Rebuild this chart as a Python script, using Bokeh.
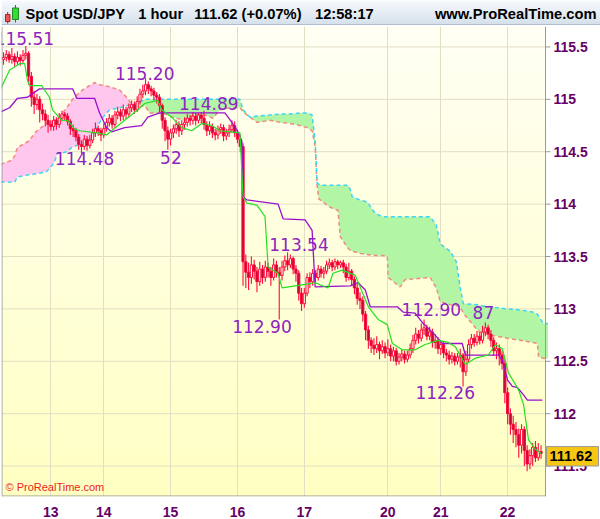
import numpy as np
from bokeh.plotting import figure
from bokeh.models import Range1d, FixedTicker
from bokeh.layouts import column
from bokeh.embed import file_html
from bokeh.resources import INLINE
from bokeh.core.properties import value

# ---------------- hourly USD/JPY candles ----------------
opens = [
    115.38, 115.40, 115.43, 115.38, 115.41, 115.36, 115.40, 115.37, 115.42, 115.44,
    115.22, 115.02, 114.95, 115.00, 114.90, 114.86, 114.80, 114.76, 114.74, 114.80,
    114.76, 114.82, 114.86, 114.84, 114.79, 114.72, 114.70, 114.64, 114.57, 114.55,
    114.62, 114.56, 114.61, 114.68, 114.72, 114.70, 114.66, 114.72, 114.78, 114.82,
    114.76, 114.85, 114.88, 114.84, 114.90, 114.86, 114.92, 114.95, 114.90, 114.98,
    115.05, 115.08, 115.14, 115.10, 115.08, 115.04, 115.02, 114.94, 114.80, 114.70,
    114.62, 114.68, 114.72, 114.76, 114.70, 114.76, 114.78, 114.82, 114.80, 114.84,
    114.80, 114.85, 114.82, 114.76, 114.70, 114.74, 114.68, 114.66, 114.71, 114.73,
    114.65, 114.68, 114.71, 114.75, 114.68, 114.62, 114.55, 113.45, 113.35, 113.30,
    113.42, 113.36, 113.26, 113.38, 113.30, 113.40, 113.36, 113.30, 113.42, 113.35,
    113.32, 113.40, 113.46, 113.42, 113.48, 113.38, 113.34, 113.15, 113.05, 113.15,
    113.30, 113.26, 113.34, 113.30, 113.38, 113.34, 113.36, 113.42, 113.44, 113.40,
    113.45, 113.42, 113.44, 113.40, 113.30, 113.36, 113.28, 113.20, 113.10, 113.08,
    112.95, 112.80, 112.70, 112.65, 112.62, 112.66, 112.60, 112.64, 112.58, 112.62,
    112.55, 112.60, 112.50, 112.54, 112.57, 112.52, 112.56, 112.62, 112.70, 112.76,
    112.72, 112.80, 112.82, 112.74, 112.78, 112.68, 112.70, 112.62, 112.66, 112.58,
    112.56, 112.52, 112.55, 112.50, 112.54, 112.56, 112.40, 112.52, 112.66, 112.72,
    112.68, 112.74, 112.70, 112.78, 112.82, 112.76, 112.70, 112.60, 112.62, 112.56,
    112.48, 112.20, 112.00, 111.90, 111.85, 111.80, 111.70, 111.85, 111.65, 111.52,
    111.60, 111.68, 111.58, 111.64,
]
highs = [
    115.45, 115.47, 115.46, 115.49, 115.44, 115.46, 115.43, 115.47, 115.51, 115.46,
    115.26, 115.08, 115.05, 115.03, 114.96, 114.90, 114.85, 114.80, 114.84, 114.83,
    114.87, 114.89, 114.88, 114.87, 114.81, 114.76, 114.73, 114.67, 114.61, 114.66,
    114.65, 114.66, 114.72, 114.78, 114.75, 114.73, 114.77, 114.82, 114.86, 114.85,
    114.89, 114.93, 114.91, 114.95, 114.93, 114.96, 114.99, 114.98, 115.03, 115.10,
    115.14, 115.20, 115.17, 115.13, 115.11, 115.07, 115.05, 114.96, 114.83, 114.74,
    114.72, 114.76, 114.80, 114.79, 114.80, 114.83, 114.86, 114.85, 114.88, 114.87,
    114.87, 114.88, 114.89, 114.79, 114.79, 114.77, 114.72, 114.75, 114.77, 114.76,
    114.72, 114.76, 114.80, 114.79, 114.71, 114.66, 114.58, 113.52, 113.44, 113.50,
    113.47, 113.40, 113.45, 113.42, 113.46, 113.44, 113.40, 113.48, 113.46, 113.40,
    113.46, 113.51, 113.54, 113.52, 113.50, 113.42, 113.37, 113.20, 113.20, 113.34,
    113.35, 113.38, 113.37, 113.42, 113.41, 113.40, 113.46, 113.48, 113.47, 113.48,
    113.47, 113.46, 113.47, 113.43, 113.44, 113.38, 113.31, 113.24, 113.16, 113.12,
    112.98, 112.84, 112.73, 112.72, 112.74, 112.69, 112.70, 112.68, 112.71, 112.66,
    112.64, 112.63, 112.58, 112.61, 112.60, 112.60, 112.67, 112.75, 112.82, 112.80,
    112.86, 112.90, 112.85, 112.83, 112.81, 112.76, 112.73, 112.70, 112.69, 112.62,
    112.60, 112.59, 112.58, 112.58, 112.62, 112.58, 112.60, 112.71, 112.76, 112.76,
    112.79, 112.78, 112.84, 112.87, 112.85, 112.80, 112.73, 112.68, 112.66, 112.60,
    112.52, 112.25, 112.05, 111.98, 111.92, 111.86, 111.90, 111.88, 111.70, 111.66,
    111.72, 111.74, 111.72, 111.70,
]
lows = [
    115.33, 115.36, 115.35, 115.34, 115.31, 115.33, 115.32, 115.35, 115.38, 115.14,
    114.93, 114.86, 114.90, 114.78, 114.80, 114.74, 114.68, 114.70, 114.70, 114.71,
    114.73, 114.79, 114.80, 114.75, 114.66, 114.64, 114.60, 114.52, 114.48, 114.52,
    114.51, 114.53, 114.58, 114.64, 114.65, 114.60, 114.63, 114.69, 114.74, 114.72,
    114.73, 114.81, 114.79, 114.80, 114.81, 114.83, 114.88, 114.86, 114.88, 114.95,
    115.01, 115.04, 115.05, 115.03, 114.99, 114.96, 114.88, 114.72, 114.60, 114.52,
    114.56, 114.63, 114.67, 114.64, 114.66, 114.71, 114.74, 114.75, 114.76, 114.75,
    114.77, 114.77, 114.71, 114.65, 114.66, 114.63, 114.61, 114.62, 114.67, 114.60,
    114.61, 114.64, 114.68, 114.64, 114.58, 114.50, 113.22, 113.20, 113.18, 113.24,
    113.28, 113.16, 113.22, 113.24, 113.26, 113.30, 113.22, 113.27, 113.30, 112.90,
    113.27, 113.36, 113.37, 113.39, 113.33, 113.26, 113.08, 112.98, 113.01, 113.12,
    113.20, 113.22, 113.25, 113.27, 113.30, 113.29, 113.33, 113.38, 113.36, 113.37,
    113.38, 113.39, 113.34, 113.26, 113.27, 113.22, 113.14, 113.04, 113.00, 112.88,
    112.70, 112.62, 112.58, 112.56, 112.58, 112.52, 112.57, 112.53, 112.55, 112.50,
    112.50, 112.46, 112.47, 112.50, 112.48, 112.49, 112.53, 112.58, 112.66, 112.67,
    112.69, 112.75, 112.70, 112.70, 112.63, 112.62, 112.57, 112.56, 112.53, 112.50,
    112.47, 112.48, 112.46, 112.47, 112.44, 112.26, 112.36, 112.49, 112.62, 112.64,
    112.65, 112.66, 112.67, 112.74, 112.71, 112.64, 112.55, 112.52, 112.46, 112.42,
    112.10, 111.90, 111.80, 111.72, 111.68, 111.58, 111.62, 111.50, 111.45, 111.47,
    111.50, 111.54, 111.55, 111.57,
]
closes = [
    115.40, 115.43, 115.38, 115.41, 115.36, 115.40, 115.37, 115.42, 115.44, 115.22,
    115.02, 114.95, 115.00, 114.90, 114.86, 114.80, 114.76, 114.74, 114.80, 114.76,
    114.82, 114.86, 114.84, 114.79, 114.72, 114.70, 114.64, 114.57, 114.55, 114.62,
    114.56, 114.61, 114.68, 114.72, 114.70, 114.66, 114.72, 114.78, 114.82, 114.76,
    114.85, 114.88, 114.84, 114.90, 114.86, 114.92, 114.95, 114.90, 114.98, 115.05,
    115.08, 115.14, 115.10, 115.08, 115.04, 115.02, 114.94, 114.80, 114.70, 114.62,
    114.68, 114.72, 114.76, 114.70, 114.76, 114.78, 114.82, 114.80, 114.84, 114.80,
    114.85, 114.82, 114.76, 114.70, 114.74, 114.68, 114.66, 114.71, 114.73, 114.65,
    114.68, 114.71, 114.75, 114.68, 114.62, 114.55, 113.45, 113.35, 113.30, 113.42,
    113.36, 113.26, 113.38, 113.30, 113.40, 113.36, 113.30, 113.42, 113.35, 113.32,
    113.40, 113.46, 113.42, 113.48, 113.38, 113.34, 113.15, 113.05, 113.15, 113.30,
    113.26, 113.34, 113.30, 113.38, 113.34, 113.36, 113.42, 113.44, 113.40, 113.45,
    113.42, 113.44, 113.40, 113.30, 113.36, 113.28, 113.20, 113.10, 113.08, 112.95,
    112.80, 112.70, 112.65, 112.62, 112.66, 112.60, 112.64, 112.58, 112.62, 112.55,
    112.60, 112.50, 112.54, 112.57, 112.52, 112.56, 112.62, 112.70, 112.76, 112.72,
    112.80, 112.82, 112.74, 112.78, 112.68, 112.70, 112.62, 112.66, 112.58, 112.56,
    112.52, 112.55, 112.50, 112.54, 112.56, 112.40, 112.52, 112.66, 112.72, 112.68,
    112.74, 112.70, 112.78, 112.82, 112.76, 112.70, 112.60, 112.62, 112.56, 112.48,
    112.20, 112.00, 111.90, 111.85, 111.80, 111.70, 111.85, 111.65, 111.52, 111.60,
    111.68, 111.58, 111.64, 111.62,
]

# ---------------- Ichimoku lines (bar position, price) ----------------
tenkan_x = [-1, 2.2, 5.8, 7.6, 8.6, 9.4, 13.7, 16.5, 17.6, 20.9, 23, 25.5, 27.3,
            33.5, 37, 38.8, 43.5, 48.2, 50.7, 55.4, 56.8, 60.4, 64, 67.6, 71.2,
            74.8, 77.7, 84.9, 86, 87.4, 91, 93.9, 95, 98.6, 100, 107.2, 111.9,
            116.5, 118.3, 121.6, 126.3, 131, 134.5, 137.8, 139.6, 143.2, 147.8,
            151.4, 156.1, 159.7, 162.2, 165.8, 169.4, 174.1, 176.6, 179.1, 181.3,
            184.9, 186.7, 188.5, 191, 193]
tenkan_y = [115.10, 115.28, 115.34, 115.34, 115.18, 115.13, 115.13, 115.02, 114.90,
            114.80, 114.80, 114.72, 114.70, 114.68, 114.66, 114.70, 114.80, 114.90,
            114.96, 114.99, 114.90, 114.83, 114.73, 114.70, 114.77, 114.75, 114.70,
            114.68, 114.07, 114.01, 113.99, 113.88, 113.40, 113.34, 113.20, 113.23,
            113.25, 113.20, 113.34, 113.37, 113.32, 113.02, 112.90, 112.85, 112.67,
            112.61, 112.61, 112.66, 112.70, 112.68, 112.64, 112.47, 112.53, 112.56,
            112.66, 112.62, 112.39, 112.23, 112.09, 111.75, 111.66, 111.62]

kijun_x = [-1, 2.2, 5, 8.6, 12.9, 24.8, 26.3, 32.7, 34.5, 37, 38.8, 43.5, 49.6,
           51.8, 56.1, 79.5, 82, 84.2, 85.6, 86, 87.4, 98.6, 100.4, 108.3, 110.8,
           111.9, 124.5, 127.3, 129.9, 131.7, 141.4, 143.5, 147.8, 150.4, 155,
           157.6, 164.7, 165.8, 177.7, 179.1, 181, 182.7, 184.5, 186.7, 188.1, 193.5]
kijun_y = [114.88, 114.92, 115.01, 115.02, 115.10, 115.10, 115.01, 115.01, 114.87,
           114.73, 114.69, 114.73, 114.75, 114.83, 114.87, 114.87, 114.78, 114.69,
           114.60, 114.07, 114.04, 114.00, 113.86, 113.85, 113.75, 113.21, 113.22,
           113.25, 113.18, 113.02, 113.02, 112.97, 112.96, 112.87, 112.75, 112.67,
           112.67, 112.56, 112.56, 112.51, 112.32, 112.26, 112.25, 112.18, 112.13,
           112.13]

# cloud: leading span A and leading span B on a shared bar grid
cloud_x = [-1, 3, 4, 5, 9, 12, 15.5, 18.3, 19.4, 21.2, 22.7, 24.5, 26.3, 28.4,
           30.2, 32.7, 34.5, 36.3, 38.1, 41.7, 44.2, 46.4, 48.9, 50.7, 52.5, 57.2,
           60.8, 65.1, 68, 72.3, 75.2, 77.7, 81.3, 84.9, 86, 88.5, 91, 95.7, 99.3,
           102.9, 106.5, 109, 110.8, 111.9, 112.6, 113.2, 114.7, 117.3, 120.1,
           120.9, 123.7, 124.5, 125.2, 128, 130.6, 133.5, 136.3, 137.8, 138.1,
           142.4, 144.2, 153.2, 155.4, 156.8, 160.4, 162.6, 164, 165.1, 170.1,
           171.2, 174.8, 180.9, 185.6, 190, 191.7, 192.1, 193.9, 195.5]
span_a = [114.21, 114.21, 114.21, 114.26, 114.28, 114.29, 114.31, 114.40, 114.49,
          114.49, 114.50, 114.54, 114.56, 114.57, 114.59, 114.68, 114.78, 114.85,
          114.90, 114.92, 114.94, 114.95, 114.97, 115.00, 115.00, 115.00, 115.00,
          115.00, 115.00, 115.00, 115.00, 115.00, 115.00, 115.00, 114.90, 114.83,
          114.84, 114.85, 114.86, 114.86, 114.87, 114.87, 114.85, 114.60, 114.20,
          114.19, 114.18, 114.18, 114.18, 114.18, 114.18, 114.14, 114.07, 114.04,
          114.02, 113.91, 113.88, 113.88, 113.88, 113.88, 113.88, 113.88, 113.80,
          113.62, 113.55, 113.45, 113.20, 113.05, 113.04, 113.03, 113.02, 113.00,
          112.99, 112.97, 112.95, 112.93, 112.86, 112.86]
span_b = [114.38, 114.42, 114.46, 114.54, 114.60, 114.70, 114.77, 114.80, 114.82,
          114.87, 114.92, 114.99, 115.04, 115.09, 115.12, 115.16, 115.14, 115.13,
          115.12, 115.09, 115.02, 114.94, 114.93, 114.94, 114.87, 114.87, 114.83,
          114.80, 114.85, 114.85, 114.82, 114.90, 114.92, 114.92, 114.88, 114.83,
          114.78, 114.80, 114.78, 114.77, 114.75, 114.73, 114.70, 114.55, 114.18,
          114.05, 114.02, 113.97, 113.94, 113.69, 113.58, 113.56, 113.55, 113.53,
          113.52, 113.51, 113.51, 113.50, 113.30, 113.21, 113.28, 113.30, 113.20,
          113.07, 113.04, 113.03, 113.02, 112.96, 112.80, 112.78, 112.75, 112.72,
          112.70, 112.68, 112.67, 112.54, 112.53, 112.53]

# ---------------- axis ticks ----------------
day_ticks = [17, 36, 60, 84, 108, 138, 157, 181]
day_labels = ["13", "14", "15", "16", "17", "20", "21", "22"]
price_ticks = [111.5, 112.0, 112.5, 113.0, 113.5, 114.0, 114.5, 115.0, 115.5]
price_labels = ["111.5", "112", "112.5", "113", "113.5", "114", "114.5", "115", "115.5"]

# swing high / low marks: bar, which extreme, leading characters hidden
mark_bars = [8, 51, 72, 28, 59, 102, 99, 151, 173, 165]
mark_kind = ["high", "high", "high", "low", "low", "high", "low", "high", "high", "low"]
mark_trim = [0, 0, 0, 0, 4, 0, 0, 0, 4, 0]

last_price = 111.62
header_items = ["Spot USD/JPY", "1 hour", "111.62 (+0.07%)", "12:58:17"]

# ---------------- layout / styling ----------------
X_START, X_END = -0.72, 194.6          # chart area: pixel 1 .. 545
Y_START, Y_END = 111.21, 115.695       # chart area: pixel 497 .. 26
DX = (X_END - X_START) / 544.0         # bar units per pixel
DY = (Y_END - Y_START) / 471.0         # price units per pixel
X_RIGHT = X_START + 599 * DX           # frame reaches the window's right edge

mark_pos_x = [7.5, 50.7, 73.7, 29.1, 60.1, 106.1, 92.8, 153.6, 172.3, 158.6]
mark_pos_y = [115.58, 115.248, 114.962, 114.438, 114.448, 113.61, 112.829, 112.99,
              112.962, 112.20]
header_pos_x = [24, 137, 193, 314]

AXIS_PURPLE = "#660066"
CANDLE_RED = "#ff0a3c"
BORDER_GREY = "#9a9a9a"

p = figure(width=600, height=494,
           x_range=Range1d(X_START, X_RIGHT), y_range=Range1d(Y_START, Y_END),
           output_backend="svg", toolbar_location=None,
           y_axis_location=None, x_axis_location="below",
           min_border_left=1, min_border_right=0, min_border_top=1,
           min_border_bottom=22)
p.border_fill_color = "white"
p.background_fill_color = "white"
p.outline_line_color = None

# vertical cream-to-yellow background of the chart area
rows = 128
t = np.linspace(0.0, 1.0, rows)
bg = np.empty((rows, 1), dtype=np.uint32)
bgv = bg.view(dtype=np.uint8).reshape((rows, 1, 4))
bgv[:, 0, 0] = 255
bgv[:, 0, 1] = 255
bgv[:, 0, 2] = np.round(194 + (244 - 194) * t).astype(np.uint8)
bgv[:, 0, 3] = 255
bg_r = p.image_rgba(image=[bg], x=X_START, y=Y_START,
                    dw=X_END - X_START, dh=Y_END - Y_START)
bg_r.level = "image"

# grid
GRID = "#e2dec4"
p.ygrid.visible = False
p.xgrid.grid_line_color = GRID
p.xgrid.ticker = FixedTicker(ticks=day_ticks)
n_p = len(price_ticks)
p.segment(x0=[X_START] * n_p, y0=price_ticks, x1=[X_END] * n_p, y1=price_ticks,
          line_color=GRID, line_width=1)

# day axis
p.xaxis.ticker = FixedTicker(ticks=day_ticks)
p.xaxis.major_label_overrides = dict(zip(day_ticks, day_labels))
p.xaxis.axis_line_color = None
p.xaxis.major_tick_line_color = None
p.xaxis.minor_tick_line_color = None
p.xaxis.major_label_text_color = AXIS_PURPLE
p.xaxis.major_label_text_font = "Liberation Sans"
p.xaxis.major_label_text_font_style = "bold"
p.xaxis.major_label_text_font_size = "14px"
p.xaxis.major_label_standoff = 4

# Ichimoku cloud
ca = np.array(span_a)
cb = np.array(span_b)
ctop = np.maximum(ca, cb)
p.varea(x=cloud_x, y1=cb, y2=ctop, fill_color="#b2f5a4")
p.varea(x=cloud_x, y1=ca, y2=ctop, fill_color="#ffc6ee")
p.line(cloud_x, span_b, line_color="#f28a80", line_width=1.5, line_dash="4 3")
p.line(cloud_x, span_a, line_color="#3fd4f4", line_width=1.5, line_dash="4 3")

# candles
o = np.array(opens)
h = np.array(highs)
l = np.array(lows)
c = np.array(closes)
idx = np.arange(len(c))
up = c >= o
p.segment(x0=idx, y0=l, x1=idx, y1=h, line_color=CANDLE_RED, line_width=1.1)
p.vbar(x=idx[up], width=0.8, bottom=o[up], top=c[up],
       fill_color="#fff6e0", line_color=CANDLE_RED, line_width=1)
p.vbar(x=idx[~up], width=0.8, bottom=c[~up], top=o[~up],
       fill_color="#c0083a", line_color=CANDLE_RED, line_width=1)

# conversion / base lines
p.line(kijun_x, kijun_y, line_color="#9a10d0", line_width=1.3)
p.line(tenkan_x, tenkan_y, line_color="#22e022", line_width=1.2)

# swing labels
mark_text = []
for b, k, tr in zip(mark_bars, mark_kind, mark_trim):
    v = highs[b] if k == "high" else lows[b]
    mark_text.append(f"{v:.2f}"[tr:])
p.text(x=mark_pos_x, y=mark_pos_y, text=mark_text,
       text_font=value("DejaVu Sans"), text_font_size="17px",
       text_color="#8e24c0", text_align="center", text_baseline="middle")

# copyright
p.text(x=[X_START + 4 * DX], y=[Y_START + 3.5 * DY], text=["\u00a9 ProRealTime.com"],
       text_font=value("Liberation Sans"), text_font_size="11px",
       text_color="#ee2222", text_baseline="bottom", text_align="left")

# chart-area border
p.segment(x0=[X_START + 0.5 * DX, X_END, X_START],
          y0=[Y_START, Y_START, Y_START + 0.5 * DY],
          x1=[X_START + 0.5 * DX, X_END, X_END],
          y1=[Y_END, Y_END, Y_START + 0.5 * DY],
          line_color=BORDER_GREY, line_width=1)

# price scale on the right of the chart area
p.segment(x0=[X_END] * n_p, y0=price_ticks, x1=[X_END + 5 * DX] * n_p, y1=price_ticks,
          line_color=BORDER_GREY, line_width=1)
p.text(x=[X_END + 8 * DX] * n_p, y=price_ticks, text=price_labels,
       text_font=value("Liberation Sans"), text_font_style="bold",
       text_font_size="14px", text_color=AXIS_PURPLE,
       text_baseline="middle", text_align="left")

# last price tag
p.quad(left=[X_END + 1 * DX], right=[X_END + 53 * DX],
       bottom=[last_price - 12.5 * DY], top=[last_price + 7 * DY],
       fill_color="#f6c614", line_color=BORDER_GREY, line_width=1)
p.text(x=[X_END + 4 * DX], y=[last_price - 2.8 * DY], text=[f"{last_price:.2f}"],
       text_font=value("Liberation Sans"), text_font_style="bold",
       text_font_size="14.5px", text_color="black",
       text_baseline="middle", text_align="left")

# ---------------- header bar ----------------
hd = figure(width=600, height=25, x_range=Range1d(0, 600), y_range=Range1d(25, 0),
            output_backend="svg", toolbar_location=None, min_border=0,
            x_axis_location=None, y_axis_location=None)
hd.grid.visible = False
hd.outline_line_color = None
band_top = np.arange(25)
shade = np.linspace(0.0, 1.0, 25)
band_cols = ["#%02x%02x%02x" % (int(244 - 45 * s), int(248 - 34 * s), int(252 - 24 * s))
             for s in shade]
hd.quad(left=0, right=600, top=band_top, bottom=band_top + 1, fill_color=band_cols,
        line_color=None)
hd.segment(x0=[0], y0=[24.5], x1=[600], y1=[24.5], line_color="#8a9bb0", line_width=1)

# small candle icon
hd.segment(x0=[6.2, 14], y0=[11.5, 4.5], x1=[6.2, 14], y1=[23, 22],
           line_color=["#992222", "#227722"], line_width=1)
hd.quad(left=[4, 11], right=[8.5, 17], top=[14, 7.5], bottom=[21, 19],
        fill_color=["#ee5555", "#33dd33"], line_color=["#aa2222", "#228822"])

hd.text(x=header_pos_x, y=[13.5] * len(header_items), text=header_items,
        text_font=value("Liberation Sans"), text_font_style="bold",
        text_font_size="14.7px", text_color="black", text_baseline="middle")
hd.text(x=[596], y=[13.5], text=["www.ProRealTime.com"],
        text_font=value("Liberation Sans"), text_font_style="bold",
        text_font_size="14.7px", text_color="black", text_baseline="middle",
        text_align="right")

layout = column(hd, p, spacing=0)
open("out.html", "w").write(file_html(layout, INLINE))
